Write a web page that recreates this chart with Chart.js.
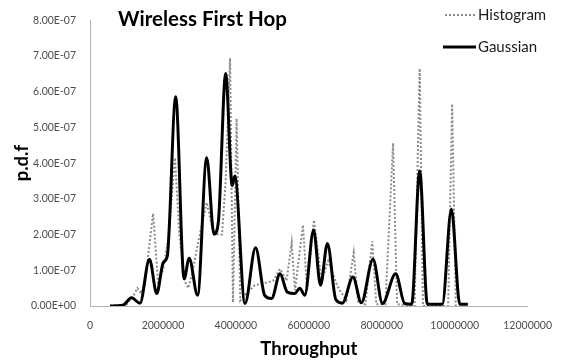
<!DOCTYPE html>
<html>
<head>
<meta charset="utf-8">
<script src="https://cdn.jsdelivr.net/npm/chart.js@4"></script>
<style>
html, body { margin: 0; padding: 0; background: #fff; }
</style>
</head>
<body>
<canvas id="pdfChart" width="565" height="363"></canvas>
<script>
var chartTitle = 'Wireless First Hop';
var xTitle = 'Throughput';
var yTitle = 'p.d.f';
var seriesNames = ['Histogram', 'Gaussian'];

// histogram (dotted grey)
var histX = [550000, 1000000, 1200000, 1300000, 1400000, 1500000, 1730000, 1870000, 2000000, 2150000,
    2330000, 2450000, 2600000, 2690000, 2800000, 2970000, 3200000, 3350000, 3500000, 3620000,
    3720000, 3840000, 3920000, 4020000, 4120000, 4290000, 4520000, 4700000, 4890000, 5020000,
    5210000, 5390000, 5530000, 5620000, 5840000, 5950000, 6140000, 6350000, 6530000, 6760000,
    6850000, 7030000, 7230000, 7350000, 7550000, 7740000, 7850000, 8100000, 8310000, 8420000,
    8900000, 9040000, 9130000, 9820000, 9930000, 10030000];
var histY = [0, 0.05e-7, 0.3e-7, 0.5e-7, 0.35e-7, 0.6e-7, 2.59e-7, 0.6e-7, 1.0e-7, 1.9e-7,
    4.15e-7, 2.0e-7, 0.7e-7, 0.5e-7, 0.9e-7, 1.8e-7, 2.9e-7, 2.2e-7, 2.0e-7, 2.0e-7,
    3.5e-7, 6.94e-7, 0.1e-7, 5.25e-7, 0.15e-7, 0.35e-7, 0.58e-7, 0.62e-7, 0.67e-7, 0.71e-7,
    1.04e-7, 0.71e-7, 1.77e-7, 0.44e-7, 2.27e-7, 0.45e-7, 2.41e-7, 0.71e-7, 1.26e-7, 0.62e-7,
    0.44e-7, 0.16e-7, 1.49e-7, 0.1e-7, 0.05e-7, 1.81e-7, 0.05e-7, 0.05e-7, 4.56e-7, 0.05e-7,
    0, 6.65e-7, 0, 0, 5.66e-7, 0];

// gaussian fit (solid black)
var gaussX = [550000, 900000, 1140000, 1370000, 1630000, 1830000, 2010000, 2120000, 2350000, 2580000,
    2720000, 2950000, 3200000, 3400000, 3520000, 3720000, 3900000, 3970000, 4250000, 4540000,
    4790000, 4980000, 5210000, 5410000, 5620000, 5750000, 5890000, 6130000, 6320000, 6510000,
    6740000, 6920000, 7210000, 7440000, 7760000, 8020000, 8380000, 8630000, 8820000, 9040000,
    9250000, 9660000, 9910000, 10140000, 10360000];
var gaussY = [0, 0.02e-7, 0.23e-7, 0.08e-7, 1.31e-7, 0.35e-7, 1.22e-7, 1.4e-7, 5.86e-7, 0.76e-7,
    1.34e-7, 0.3e-7, 4.15e-7, 2.01e-7, 2.36e-7, 6.51e-7, 3.37e-7, 3.64e-7, 0.07e-7, 1.63e-7,
    0.3e-7, 0.21e-7, 0.9e-7, 0.39e-7, 0.35e-7, 0.5e-7, 0.3e-7, 2.13e-7, 0.58e-7, 1.75e-7,
    0.18e-7, 0.08e-7, 0.81e-7, 0.09e-7, 1.31e-7, 0.07e-7, 0.9e-7, 0.07e-7, 0.05e-7, 3.78e-7,
    0.05e-7, 0.05e-7, 2.71e-7, 0.05e-7, 0.05e-7];

var xMax = 12000000;
var xStep = 2000000;
var yMax = 8e-7;
var yStep = 1e-7;

function toPoints(xs, ys) {
    return xs.map(function (x, i) { return { x: x, y: ys[i] }; });
}

// excel style 8.00E-07
function sciLabel(v) {
    if (Math.abs(v) < 1e-12) return '0.00E+00';
    var parts = v.toExponential(2).split('e');
    var exp = parseInt(parts[1], 10);
    var sign = exp < 0 ? '-' : '+';
    var e = Math.abs(exp);
    return parts[0] + 'E' + sign + (e < 10 ? '0' + e : e);
}

// title and legend sit inside the plot area, like the excel original
var overlayText = {
    id: 'overlayText',
    afterDraw: function (chart) {
        var ctx = chart.ctx;
        ctx.save();
        ctx.textBaseline = 'middle';
        ctx.fillStyle = '#000';
        ctx.font = 'bold 20.5px Lato';
        ctx.fillText(chartTitle, 118, 19);

        ctx.font = '15px Lato';
        ctx.fillStyle = '#1a1a1a';
        ctx.strokeStyle = '#8c8c8c';
        ctx.lineWidth = 2;
        ctx.setLineDash([2, 2]);
        ctx.beginPath();
        ctx.moveTo(445, 15);
        ctx.lineTo(476, 15);
        ctx.stroke();
        ctx.fillText(seriesNames[0], 478, 15);

        ctx.setLineDash([]);
        ctx.strokeStyle = '#000';
        ctx.lineWidth = 3;
        ctx.beginPath();
        ctx.moveTo(443, 47);
        ctx.lineTo(476, 47);
        ctx.stroke();
        ctx.fillText(seriesNames[1], 478, 47);
        ctx.restore();
    }
};

var tickFont = { family: 'Lato', size: 10.5 };
var titleFont = { family: 'Lato', size: 18.5, weight: 'bold' };

var ctx = document.getElementById('pdfChart').getContext('2d');
var chart = new Chart(ctx, {
    type: 'line',
    data: {
        datasets: [{
            label: seriesNames[0],
            data: toPoints(histX, histY),
            borderColor: '#8c8c8c',
            borderWidth: 2,
            borderDash: [2, 2],
            pointRadius: 0,
            tension: 0,
            order: 2
        }, {
            label: seriesNames[1],
            data: toPoints(gaussX, gaussY),
            borderColor: '#000',
            borderWidth: 3,
            pointRadius: 0,
            cubicInterpolationMode: 'monotone',
            order: 1
        }]
    },
    options: {
        responsive: false,
        animation: false,
        layout: { padding: { left: 8, right: 37, top: 15, bottom: 0 } },
        plugins: {
            legend: { display: false },
            tooltip: { enabled: false }
        },
        scales: {
            x: {
                type: 'linear',
                min: 0,
                max: xMax,
                grid: { display: false, drawTicks: false },
                border: { color: '#b3b3b3', width: 1 },
                ticks: {
                    stepSize: xStep,
                    padding: 13,
                    color: '#4d4d4d',
                    font: tickFont,
                    maxRotation: 0,
                    callback: function (v) { return String(v); }
                },
                title: { display: true, text: xTitle, color: '#000', font: titleFont, padding: { top: 0, bottom: 3 } },
                afterFit: function (scale) { scale.height = 57; }
            },
            y: {
                min: 0,
                max: yMax,
                grid: { display: false, drawTicks: false },
                border: { color: '#b3b3b3', width: 1 },
                ticks: {
                    stepSize: yStep,
                    padding: 14,
                    color: '#4d4d4d',
                    font: tickFont,
                    callback: function (v) { return sciLabel(v); }
                },
                title: { display: true, text: yTitle, color: '#000', font: titleFont, padding: { top: 3, bottom: 0 } },
                afterFit: function (scale) { scale.width = 82; }
            }
        }
    },
    plugins: [overlayText]
});
</script>
</body>
</html>
